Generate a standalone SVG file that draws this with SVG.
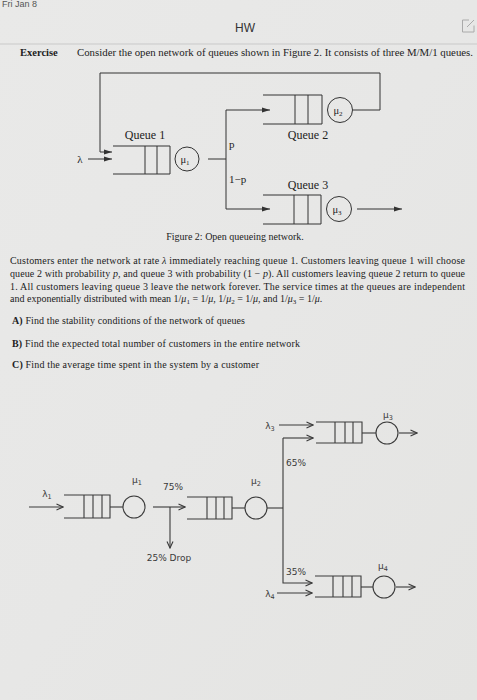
<svg xmlns="http://www.w3.org/2000/svg" width="477" height="700" viewBox="0 0 477 700">
<defs>
<linearGradient id="bg" x1="0" y1="0" x2="1" y2="1">
<stop offset="0" stop-color="#e9e9e8"/>
<stop offset="0.5" stop-color="#e7e7e6"/>
<stop offset="1" stop-color="#e4e4e2"/>
</linearGradient>
<marker id="fa" viewBox="0 0 8 6" refX="8" refY="3" markerWidth="8" markerHeight="6" markerUnits="userSpaceOnUse" orient="auto">
<path d="M0,0.5 L8,3 L0,5.5 Z" fill="#333"/>
</marker>
<marker id="oa" viewBox="0 0 8 8" refX="7.5" refY="4" markerWidth="8" markerHeight="8" markerUnits="userSpaceOnUse" orient="auto">
<path d="M1,1 L7.5,4 L1,7" fill="none" stroke="#3a3a3a" stroke-width="1.1"/>
</marker>
</defs>
<style>
.ln{fill:none;stroke:#333;stroke-width:1}
.ln2{fill:none;stroke:#3a3a3a;stroke-width:1.1}
.srf{font-family:"Liberation Serif","Times New Roman",serif;fill:#222}
.ssf{font-family:"DejaVu Sans","Liberation Sans",sans-serif;fill:#3a3a3a}
.circ{fill:none;stroke:#333;stroke-width:1}
.circ2{fill:none;stroke:#3a3a3a;stroke-width:1.1}
</style>
<rect x="0" y="0" width="477" height="700" fill="url(#bg)"/>

<!-- header -->
<text x="2" y="7" font-family="Liberation Sans,Arial,sans-serif" font-size="9" fill="#555">Fri Jan 8</text>
<text x="245" y="32" text-anchor="middle" font-family="Liberation Sans,Arial,sans-serif" font-size="12" fill="#333">HW</text>
<g id="edit-icon" fill="none" stroke="#aaa" stroke-width="1">
<path d="M469,20 H462.5 V32 H474 V25.5"/>
<path d="M467,27 L474,20"/>
</g>
<line x1="0" y1="44" x2="477" y2="44" stroke="#c9c9c9" stroke-width="1"/>
<text x="20" y="56" class="srf" font-size="10.5" font-weight="bold">Exercise</text>
<text x="77" y="56" class="srf" font-size="10.5" textLength="396" lengthAdjust="spacingAndGlyphs">Consider the open network of queues shown in Figure 2. It consists of three M/M/1 queues.</text>

<!-- Top figure: connectors -->
<g id="connectors-top">
<polyline class="ln" points="353,110 380,110 380,73 100,73 100,152 112,152" marker-end="url(#fa)"/>
<line class="ln" x1="88" y1="159" x2="112" y2="159" marker-end="url(#fa)"/>
<line class="ln" x1="208" y1="159" x2="226" y2="159"/>
<line class="ln" x1="226" y1="110" x2="226" y2="209"/>
<line class="ln" x1="226" y1="110" x2="270" y2="110" marker-end="url(#fa)"/>
<line class="ln" x1="226" y1="209" x2="270" y2="209" marker-end="url(#fa)"/>
<line class="ln" x1="357" y1="209" x2="402" y2="209" marker-end="url(#fa)"/>
<text x="80" y="163" class="srf" font-size="11" text-anchor="middle">λ</text>
<text x="229" y="148" class="srf" font-size="11">p</text>
<text x="229" y="183" class="srf" font-size="11">1−p</text>
</g>
<g id="queue1">
<path class="ln" d="M113,146 H170 V174 H113 M145,146 V174 M157,146 V174"/>
<text x="145" y="139" class="srf" font-size="12" text-anchor="middle">Queue 1</text>
</g>
<g id="server1">
<circle class="circ" cx="187" cy="159" r="12"/>
<text x="185" y="163" class="srf" font-size="10.5" text-anchor="middle">μ<tspan font-size="7" dy="2">1</tspan></text>
</g>
<g id="queue2">
<path class="ln" d="M263,95 H322 V124 H263 M295,95 V124 M308,95 V124"/>
<text x="308" y="139" class="srf" font-size="12" text-anchor="middle">Queue 2</text>
</g>
<g id="server2">
<circle class="circ" cx="340" cy="110" r="12.5"/>
<text x="338" y="114" class="srf" font-size="10.5" text-anchor="middle">μ<tspan font-size="7" dy="2">2</tspan></text>
</g>
<g id="queue3">
<path class="ln" d="M263,195 H321 V224 H263 M294,195 V224 M308,195 V224"/>
<text x="308" y="189" class="srf" font-size="12" text-anchor="middle">Queue 3</text>
</g>
<g id="server3">
<circle class="circ" cx="339" cy="209" r="12.5"/>
<text x="337" y="213" class="srf" font-size="10.5" text-anchor="middle">μ<tspan font-size="7" dy="2">3</tspan></text>
</g>

<!-- text block -->
<text x="235" y="240" class="srf" font-size="10" text-anchor="middle">Figure 2: Open queueing network.</text>
<text x="10" y="264" class="srf" font-size="10" textLength="455" lengthAdjust="spacing">Customers enter the network at rate <tspan font-style="italic">λ</tspan> immediately reaching queue 1. Customers leaving queue 1 will choose</text>
<text x="10" y="277" class="srf" font-size="10" textLength="455" lengthAdjust="spacing">queue 2 with probability <tspan font-style="italic">p</tspan>, and queue 3 with probability (1 − <tspan font-style="italic">p</tspan>). All customers leaving queue 2 return to queue</text>
<text x="10" y="290" class="srf" font-size="10" textLength="455" lengthAdjust="spacing">1. All customers leaving queue 3 leave the network forever. The service times at the queues are independent</text>
<text x="10" y="302" class="srf" font-size="10">and exponentially distributed with mean 1/<tspan font-style="italic">μ</tspan><tspan font-size="7" dy="2">1</tspan><tspan dy="-2"> = 1/</tspan><tspan font-style="italic">μ</tspan>, 1/<tspan font-style="italic">μ</tspan><tspan font-size="7" dy="2">2</tspan><tspan dy="-2"> = 1/</tspan><tspan font-style="italic">μ</tspan>, and 1/<tspan font-style="italic">μ</tspan><tspan font-size="7" dy="2">3</tspan><tspan dy="-2"> = 1/</tspan><tspan font-style="italic">μ</tspan>.</text>
<text x="12" y="324" class="srf" font-size="10" textLength="233" lengthAdjust="spacing"><tspan font-weight="bold">A)</tspan> Find the stability conditions of the network of queues</text>
<text x="12" y="347" class="srf" font-size="10" textLength="288" lengthAdjust="spacing"><tspan font-weight="bold">B)</tspan> Find the expected total number of customers in the entire network</text>
<text x="12" y="368" class="srf" font-size="10" textLength="247" lengthAdjust="spacing"><tspan font-weight="bold">C)</tspan> Find the average time spent in the system by a customer</text>

<!-- Bottom figure: connectors -->
<g id="connectors-bottom">
<line class="ln2" x1="29" y1="507" x2="63" y2="507" marker-end="url(#oa)"/>
<line class="ln2" x1="110" y1="507" x2="123" y2="507"/>
<line class="ln2" x1="153" y1="507" x2="185" y2="507" marker-end="url(#oa)"/>
<line class="ln2" x1="170" y1="507" x2="170" y2="548" marker-end="url(#oa)"/>
<line class="ln2" x1="232" y1="508" x2="245" y2="508"/>
<line class="ln2" x1="267" y1="508" x2="283" y2="508"/>
<polyline class="ln2" points="283,438 283,583 312,583" marker-end="url(#oa)"/>
<line class="ln2" x1="283" y1="438" x2="313" y2="438" marker-end="url(#oa)"/>
<line class="ln2" x1="279" y1="425" x2="313" y2="425" marker-end="url(#oa)"/>
<line class="ln2" x1="277" y1="593" x2="312" y2="593" marker-end="url(#oa)"/>
<line class="ln2" x1="362" y1="433" x2="376" y2="433"/>
<line class="ln2" x1="399" y1="433" x2="417" y2="433" marker-end="url(#oa)"/>
<line class="ln2" x1="361" y1="587" x2="373" y2="587"/>
<line class="ln2" x1="396" y1="587" x2="415" y2="587" marker-end="url(#oa)"/>
<text x="47" y="497" class="ssf" font-size="9" text-anchor="middle">λ<tspan font-size="6.5" dy="2">1</tspan></text>
<text x="173" y="490" class="ssf" font-size="9" text-anchor="middle">75%</text>
<text x="169" y="561" class="ssf" font-size="9" text-anchor="middle">25% Drop</text>
<text x="286" y="466" class="ssf" font-size="9">65%</text>
<text x="286" y="575" class="ssf" font-size="9">35%</text>
<text x="270" y="429" class="ssf" font-size="9" text-anchor="middle">λ<tspan font-size="6.5" dy="2">3</tspan></text>
<text x="270" y="597" class="ssf" font-size="9" text-anchor="middle">λ<tspan font-size="6.5" dy="2">4</tspan></text>
</g>
<g id="queueA">
<path class="ln2" d="M64,495 H110 V518 H64 M84,495 V518 M93,495 V518 M102,495 V518"/>
</g>
<g id="serverA">
<circle class="circ2" cx="134" cy="507" r="11"/>
<text x="137" y="483" class="ssf" font-size="9" text-anchor="middle">μ<tspan font-size="6.5" dy="2">1</tspan></text>
</g>
<g id="queueB">
<path class="ln2" d="M187,497 H232 V519 H187 M207,497 V519 M216,497 V519 M224,497 V519"/>
</g>
<g id="serverB">
<circle class="circ2" cx="256" cy="508" r="11"/>
<text x="256" y="484" class="ssf" font-size="9" text-anchor="middle">μ<tspan font-size="6.5" dy="2">2</tspan></text>
</g>
<g id="queueC">
<path class="ln2" d="M316,422 H362 V443 H316 M335,422 V443 M345,422 V443 M353,422 V443"/>
</g>
<g id="serverC">
<circle class="circ2" cx="387" cy="433" r="11"/>
<text x="388" y="418" class="ssf" font-size="9" text-anchor="middle">μ<tspan font-size="6.5" dy="2">3</tspan></text>
</g>
<g id="queueD">
<path class="ln2" d="M315,576 H361 V597 H315 M333,576 V597 M343,576 V597 M352,576 V597"/>
</g>
<g id="serverD">
<circle class="circ2" cx="384" cy="587" r="11"/>
<text x="383" y="569" class="ssf" font-size="9" text-anchor="middle">μ<tspan font-size="6.5" dy="2">4</tspan></text>
</g>
</svg>
